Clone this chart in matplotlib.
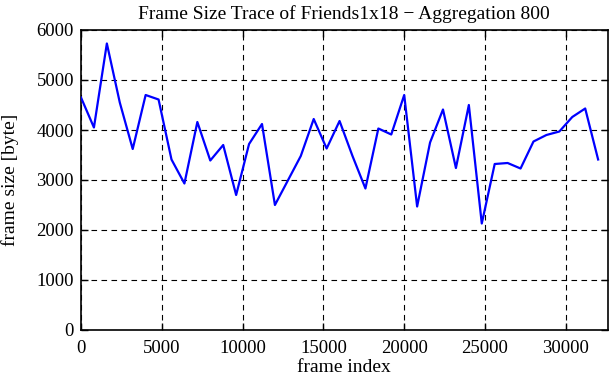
import numpy as np
import matplotlib
matplotlib.use("Agg")
import matplotlib.pyplot as plt

plt.rcParams.update({
    "font.family": ["Liberation Serif", "DejaVu Serif"],
    "font.size": 14,
})

# aggregated frame sizes, one value every 800 frames
frame_index = np.arange(0, 32001, 800)
frame_size = [
    4650, 4050, 5730, 4550, 3620, 4700, 4610, 3410, 2930, 4160,
    3390, 3700, 2700, 3720, 4120, 2500, 2990, 3480, 4220, 3630,
    4180, 3480, 2830, 4030, 3910, 4700, 2470, 3750, 4410, 3240,
    4500, 2130, 3320, 3340, 3230, 3770, 3900, 3970, 4260, 4430,
    3410,
]
x_ticks = [0, 5000, 10000, 15000, 20000, 25000, 30000]
y_ticks = [0, 1000, 2000, 3000, 4000, 5000, 6000]

fig = plt.figure(figsize=(6.11, 3.80), dpi=100)
ax = fig.add_axes([81 / 611, 50 / 380, 526.5 / 611, 300 / 380])

ax.plot(frame_index, frame_size, color="#0000ff", lw=1.6, zorder=3)

ax.set_xlim(0, 32580)
ax.set_ylim(0, 6000)
ax.set_xticks(x_ticks)
ax.set_yticks(y_ticks)
ax.grid(True, color="black", ls=(0, (5, 4)), lw=0.8)
ax.tick_params(direction="in", top=True, right=True, length=5, width=1,
               labelsize=13.5)
ax.tick_params(axis="x", pad=7)
ax.tick_params(axis="y", pad=5)
for s in ax.spines.values():
    s.set_linewidth(1.2)

# axis labels placed in figure pixels to match the original layout
fig.text(344 / 611, 8 / 380, "frame index", fontsize=14,
         ha="center", va="baseline")
fig.text(1.5 / 611, 0.526, "frame size [byte]", fontsize=14,
         rotation=90, ha="left", va="center")
ax.set_title("Frame Size Trace of Friends1x18 \u2212 Aggregation 800",
             fontsize=14, pad=8)

fig.savefig("out.png", dpi=100)
